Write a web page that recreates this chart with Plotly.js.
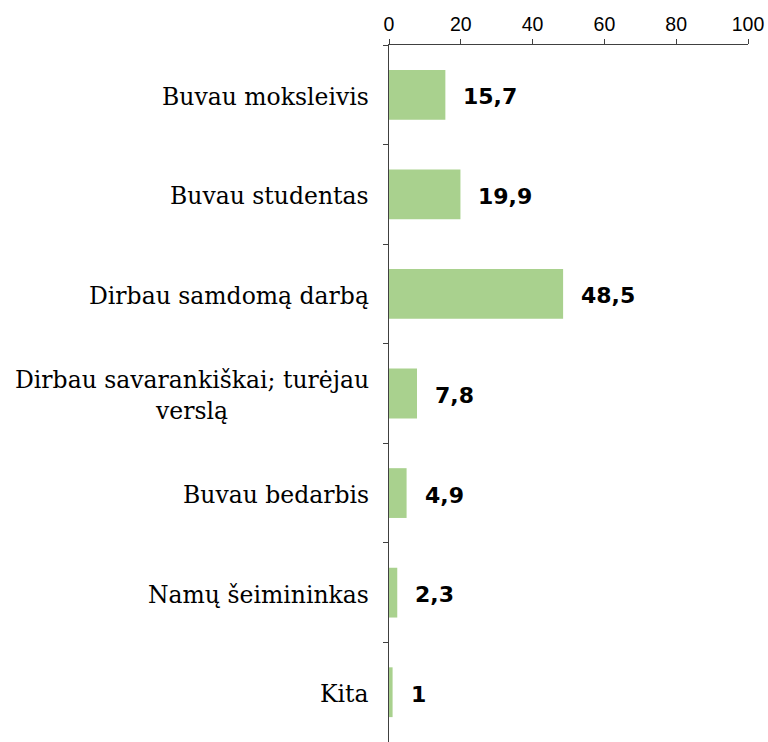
<!DOCTYPE html>
<html>
<head>
<meta charset="utf-8">
<script src="https://cdn.plot.ly/plotly-3.0.1.min.js"></script>
<style>html,body{margin:0;padding:0;overflow:hidden;background:#fff}</style>
</head>
<body>
<div id="chart" style="width:768px;height:742px"></div>
<script>
const categories = [
  "Buvau moksleivis",
  "Buvau studentas",
  "Dirbau samdomą darbą",
  "Dirbau savarankiškai; turėjau<br>verslą",
  "Buvau bedarbis",
  "Namų šeimininkas",
  "Kita"
];
const values = [15.7, 19.9, 48.5, 7.8, 4.9, 2.3, 1];
const valueLabels = ["15,7", "19,9", "48,5", "7,8", "4,9", "2,3", "1"];
const xTicks = [0, 20, 40, 60, 80, 100];

const trace = {
  type: "bar",
  orientation: "h",
  x: values,
  y: categories,
  width: 0.5,
  marker: {color: "#a9d18e"},
  hoverinfo: "none"
};

const valueAnnotations = values.map((v, i) => ({
  x: v, y: categories[i], xref: "x", yref: "y",
  text: valueLabels[i], showarrow: false,
  xanchor: "left", yanchor: "middle", xshift: 16, yshift: -2,
  font: {family: "DejaVu Sans", size: 22, color: "#000", weight: "bold"}
}));

const categoryAnnotations = categories.map((c) => ({
  x: 0, y: c, xref: "paper", yref: "y",
  text: c, showarrow: false, align: "center",
  xanchor: "right", yanchor: "middle", xshift: -18, yshift: -2,
  font: {family: "DejaVu Serif", size: 23.5, color: "#000"}
}));

const layout = {
  width: 768, height: 742,
  margin: {l: 389, r: 20, t: 45, b: 0},
  paper_bgcolor: "#fff", plot_bgcolor: "#fff",
  showlegend: false,
  xaxis: {
    side: "top", range: [0, 100], tickvals: xTicks, ticktext: xTicks.map(String),
    showgrid: false, zeroline: false, showline: true, linecolor: "#404040", linewidth: 1,
    ticks: "outside", ticklen: 5, tickcolor: "#404040",
    tickfont: {family: "Liberation Sans", size: 19.5, color: "#000"}
  },
  yaxis: {
    type: "category", autorange: "reversed", showticklabels: false,
    showgrid: false, zeroline: false, showline: true, linecolor: "#404040", linewidth: 1,
    ticks: "outside", ticklen: 5, tickcolor: "#404040", tickson: "boundaries"
  },
  annotations: categoryAnnotations.concat(valueAnnotations)
};

Plotly.newPlot("chart", [trace], layout, {displayModeBar: false, staticPlot: true});
</script>
</body>
</html>
